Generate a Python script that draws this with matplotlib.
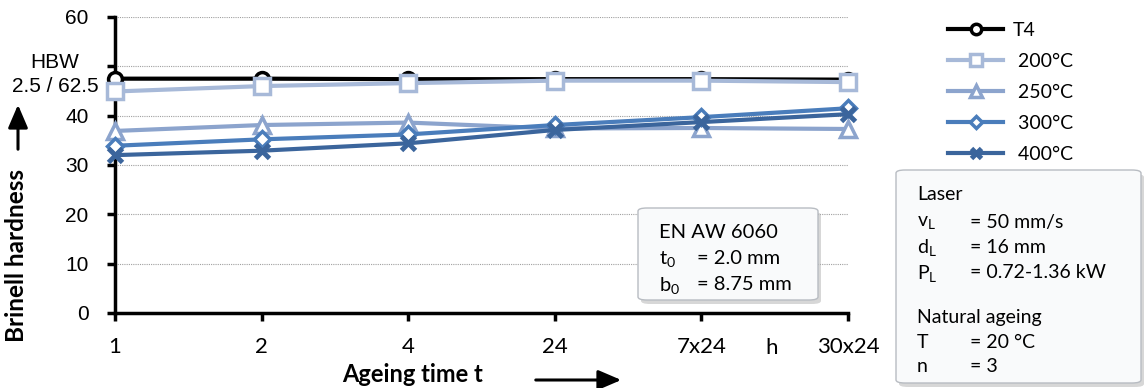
import matplotlib
matplotlib.use("Agg")
import matplotlib.pyplot as plt
from matplotlib.patches import FancyBboxPatch, FancyArrowPatch
import numpy as np

plt.rcParams["mathtext.fontset"] = "custom"
plt.rcParams["mathtext.rm"] = "Lato"
plt.rcParams["mathtext.it"] = "Lato:italic"
plt.rcParams["mathtext.bf"] = "Lato:bold"

# ---- data ----
time_labels = ["1", "2", "4", "24", "7x24", "30x24"]
series_names = ["T4", " 200°C", " 250°C", " 300°C", " 400°C"]
t4 = [47.5, 47.5, 47.4, 47.4, 47.4, 47.3]
c200 = [44.9, 46.0, 46.6, 47.1, 47.1, 46.8]
c250 = [36.9, 38.1, 38.6, 37.4, 37.5, 37.3]
c300 = [33.9, 35.2, 36.2, 38.1, 39.7, 41.5]
c400 = [32.0, 32.9, 34.4, 37.1, 38.7, 40.3]
y_ticks = [0, 10, 20, 30, 40, 50, 60]
y_tick_labels = ["0", "10", "20", "30", "40", "", "60"]

W, H = 1146, 388
fig = plt.figure(figsize=(W / 100, H / 100), dpi=100)
ax = fig.add_axes([115 / W, 1 - 313 / H, (848 - 115) / W, (313 - 17) / H])

x = np.arange(len(time_labels))
styles = [
    dict(color="black", marker="o", ms=10, mfc="white", mew=2.5),
    dict(color="#a7b9d8", marker="s", ms=11, mfc="white", mew=2.5),
    dict(color="#8ca4cd", marker="^", ms=11, mfc="white", mew=2.5),
    dict(color="#4a7dbb", marker="D", ms=8, mfc="white", mew=2.5),
    dict(color="#3b659c", marker="x", ms=10, mew=3.5),
]
data = [t4, c200, c250, c300, c400]
handles = []
for name, vals, st in zip(series_names, data, styles):
    h, = ax.plot(x, vals, lw=3, label=name, clip_on=False, zorder=3,
                 mec=st["color"], **st)
    handles.append(h)

ax.set_xlim(0, len(time_labels) - 1)
ax.set_ylim(0, 60)
ax.set_yticks(y_ticks)
ax.set_yticklabels(y_tick_labels, fontfamily="Liberation Sans", fontsize=15)
ax.set_xticks(x)
ax.set_xticklabels(time_labels, fontfamily="Lato", fontsize=16)
ax.tick_params(axis="y", length=6, width=2.5, pad=13, direction="out")
ax.tick_params(axis="x", length=6, width=2.5, pad=11, direction="out")
ax.yaxis.grid(True, linestyle=(0, (1, 1)), color="#a0a0a0", lw=0.8)
ax.set_axisbelow(True)
for s in ["top", "right"]:
    ax.spines[s].set_visible(False)
for s in ["left", "bottom"]:
    ax.spines[s].set_linewidth(2.5)

# y label and arrow
fig.text(17 / W, 1 - 256 / H, "Brinell hardness", rotation=90, ha="center",
         va="center", fontfamily="Lato", fontweight="bold", fontsize=17.5)
fig.patches.append(FancyArrowPatch(
    (18 / W, 1 - 152 / H), (18 / W, 1 - 102 / H), transform=fig.transFigure,
    arrowstyle="-|>,head_length=14,head_width=6", lw=2.2, color="black",
    mutation_scale=1))
fig.text(55 / W, 1 - 62 / H, "HBW", ha="center", va="center",
         fontfamily="Liberation Sans", fontsize=15)
fig.text(99 / W, 1 - 87 / H, "2.5 / 62.5", ha="right", va="center",
         fontfamily="Liberation Sans", fontsize=15)

# x label and arrow
fig.text(413 / W, 1 - 386 / H, "Ageing time t", ha="center", va="bottom",
         fontfamily="Lato", fontweight="bold", fontsize=17)
fig.patches.append(FancyArrowPatch(
    (533 / W, 1 - 380 / H), (624 / W, 1 - 380 / H), transform=fig.transFigure,
    arrowstyle="-|>,head_length=14,head_width=6", lw=2.2, color="black",
    mutation_scale=1))
fig.text(772 / W, 1 - 348 / H, "h", ha="center", va="center",
         fontfamily="Lato", fontsize=16)

# legend
leg = fig.legend(handles=handles, loc="upper left",
                 bbox_to_anchor=(948 / W, 1 - 22 / H), frameon=False,
                 borderpad=0, borderaxespad=0,
                 prop=dict(family="Lato", size=14), handlelength=2.85,
                 labelspacing=0.72, handletextpad=0.5, markerscale=0.75)


def info_box(x0, y0, x1, y1, lines, fs):
    w = (x1 - x0) / W
    h = (y1 - y0) / H
    shadow = FancyBboxPatch((x0 / W + 3 / W, 1 - y1 / H - 4 / H), w, h,
                            boxstyle="round,pad=0,rounding_size=0.008",
                            transform=fig.transFigure, facecolor="#b0b0b0",
                            edgecolor="none", alpha=0.5, zorder=5)
    box = FancyBboxPatch((x0 / W, 1 - y1 / H), w, h,
                         boxstyle="round,pad=0,rounding_size=0.008",
                         transform=fig.transFigure, facecolor="#f9fafb",
                         edgecolor="#b8bcc2", lw=1.0, zorder=6)
    fig.patches.append(shadow)
    fig.patches.append(box)
    for (tx, ty, s) in lines:
        fig.text(tx / W, 1 - ty / H, s, ha="left", va="center",
                 fontfamily="Lato", fontsize=fs, zorder=7)


info_box(638, 208, 818, 300, [
    (659, 233, "EN AW 6060"),
    (659, 259, r"t$_\mathregular{0}$"),
    (697, 259, "= 2.0 mm"),
    (659, 285, r"b$_\mathregular{0}$"),
    (697, 285, "= 8.75 mm"),
], 14.5)

info_box(896, 170, 1141, 383, [
    (917, 195, "Laser"),
    (917, 223, r"v$_\mathregular{L}$"),
    (970, 223, "= 50 mm/s"),
    (917, 248, r"d$_\mathregular{L}$"),
    (970, 248, "= 16 mm"),
    (917, 273, r"P$_\mathregular{L}$"),
    (970, 273, "= 0.72-1.36 kW"),
    (917, 317, "Natural ageing"),
    (917, 342, "T"),
    (970, 342, "= 20 °C"),
    (917, 367, "n"),
    (970, 367, "= 3"),
], 14)

fig.savefig("out.png", dpi=100)
